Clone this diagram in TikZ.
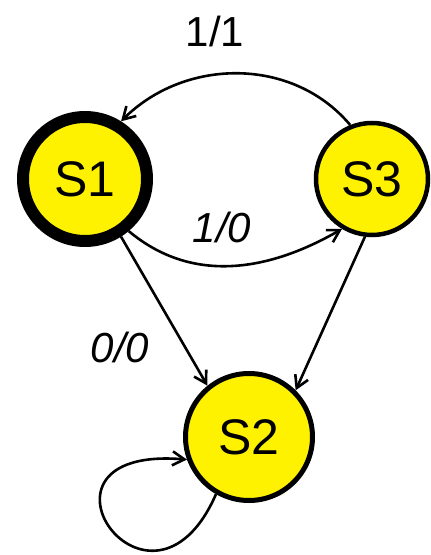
\documentclass[tikz,border=0pt]{standalone}
\usepackage{fontspec}
\setmainfont{Liberation Sans}
\usetikzlibrary{arrows.meta}

\tikzset{
  state/.style={circle, draw=black, fill=yellow, inner sep=0pt, font=\fontsize{50}{50}\selectfont},
  trans/.style={line width=2.6pt, -{Straight Barb[length=12pt,width=14pt]}},
  lbl/.style={font=\fontsize{42}{42}\selectfont\itshape}
}

\begin{document}
\begin{tikzpicture}[x=1pt,y=1pt]
  \useasboundingbox (0,0) rectangle (431,555);

  % states, S1 is the start state (heavy ring)
  \node[state, line width=12pt, minimum size=124pt] (s1) at (85,376) {S1};
  \node[state, line width=4.5pt, minimum size=112pt] (s3) at (372,376) {S3};
  \node[state, line width=5pt, minimum size=127pt] (s2) at (249,118) {S2};

  % transitions
  \draw[trans] (s3.112) to[out=130, in=45] (s1.58);
  \draw[trans] (s1.-50) to[out=-40, in=210] (s3.-121);
  \draw[trans] (s1.-58) -- (s2.129);
  \draw[trans] (s3.-97) -- (s2.45);
  \draw[trans] (s2.-120) .. controls (150,-90) and (10,110) .. (s2.200); % self loop

  % input/output labels
  \node[lbl, font=\fontsize{42}{42}\selectfont] (l11) at (215,524) {1/1};
  \node[lbl] (l10) at (222,328) {1/0};
  \node[lbl] (l00) at (120,208) {0/0};
\end{tikzpicture}
\end{document}
